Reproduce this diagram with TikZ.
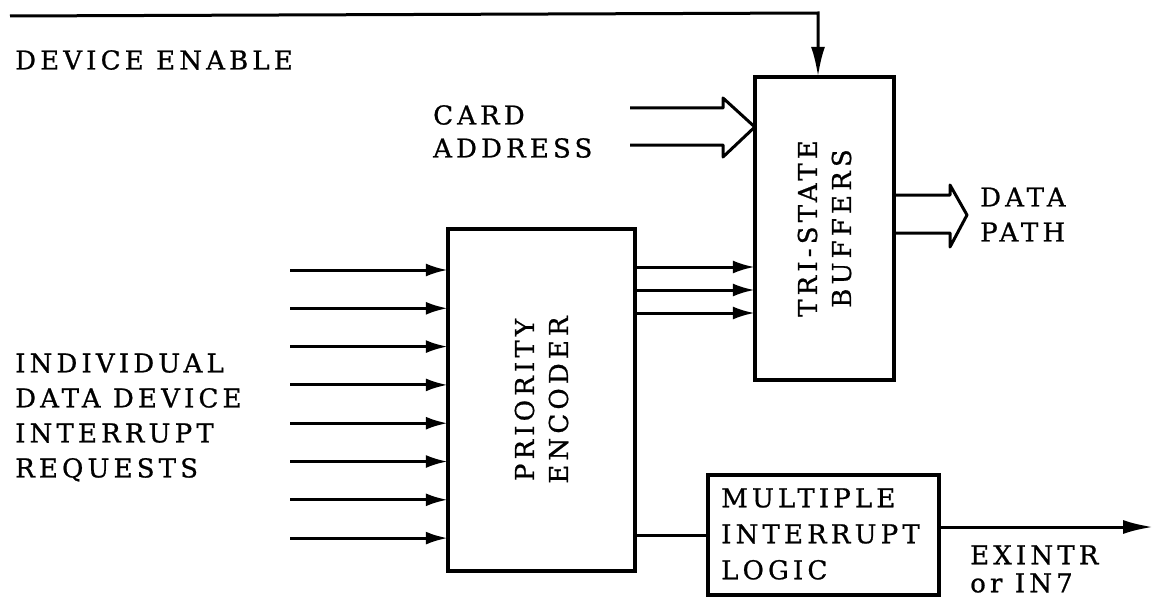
\documentclass[tikz,border=0pt]{standalone}
\usepackage{fontspec}
\setmainfont{DejaVu Serif}[LetterSpace=16,FakeBold=0.8]
\usetikzlibrary{arrows.meta}
\begin{document}
\begin{tikzpicture}[x=1pt,y=-1pt,
  wire/.style={line width=3pt},
  arr/.style={wire,-{Latex[length=22pt,width=13pt]}},
  longarr/.style={wire,-{Latex[length=30pt,width=14pt]}},
  blk/.style={draw,line width=3.5pt,inner sep=0pt},
  lbl/.style={font=\fontsize{26}{34}\selectfont,align=left,inner sep=0pt},
  rlbl/.style={font=\fontsize{26}{34}\selectfont,align=center,inner sep=0pt,rotate=90}
]
\useasboundingbox (0,0) rectangle (1161,599);

% blocks
\draw[blk] (448,229) rectangle (635,571);
\node (enc) at (541.5,400) [minimum width=187pt,minimum height=342pt] {};
\draw[blk] (755,77) rectangle (894,380);
\node (tsb) at (824.5,228.5) [minimum width=139pt,minimum height=303pt] {};
\draw[blk] (708,475) rectangle (939,595);
\node (mil) at (823.5,535) [minimum width=231pt,minimum height=120pt] {};

\node[rlbl] at (enc.center) {PRIORITY\\ENCODER};
\node[rlbl] at (tsb.center) {TRI-STATE\\BUFFERS};
\node[lbl,font=\fontsize{26}{36}\selectfont] at (721,534) [anchor=west] {MULTIPLE\\INTERRUPT\\LOGIC};

% labels
\node[lbl] (de) at (15,60) [anchor=west] {DEVICE ENABLE};
\node[lbl,font=\fontsize{26}{33}\selectfont] (ca) at (433,131.5) [anchor=west] {CARD\\ADDRESS};
\node[lbl,font=\fontsize{26}{35}\selectfont] (idr) at (15,417.5) [anchor=west] {INDIVIDUAL\\DATA DEVICE\\INTERRUPT\\REQUESTS};
\node[lbl,font=\fontsize{26}{35}\selectfont] (dp) at (980,214.5) [anchor=west] {DATA\\PATH};
\node[lbl,font=\fontsize{26}{28}\selectfont] (ex) at (970,569) [anchor=west] {EXINTR\\or IN7};

% device enable
\coordinate (deS) at (10,16);
\coordinate (deT) at (818,13);
\draw[longarr] (deS) -- (deT) -- (deT |- tsb.north);

% card address (hollow bus arrow)
\draw[wire,line join=round] (630,108) -- (723,108) -- (723,98) -- (tsb.west |- 0,127) -- (723,157) -- (723,145) -- (630,145);

% data path (hollow bus arrow)
\draw[wire,line join=round] (tsb.east |- 0,195) -- (950,195) -- (950,185) -- (967,215) -- (950,247) -- (950,233) -- (tsb.east |- 0,233);

% interrupt request inputs
\foreach \k in {0,...,7}{
  \coordinate (in\k) at (290,{270+38.3*\k});
  \draw[arr] (in\k) -- (in\k -| enc.west);
}

% encoder to tri-state
\foreach \y in {267,290,313}{
  \draw[arr] (enc.east |- 0,\y) -- (tsb.west |- 0,\y);
}

% encoder to multiple interrupt logic
\draw[wire] (enc.east |- mil.west) -- (mil.west);
\coordinate (exT) at (1153,527);
\draw[longarr] (mil.east |- exT) -- (exT);
\end{tikzpicture}
\end{document}
